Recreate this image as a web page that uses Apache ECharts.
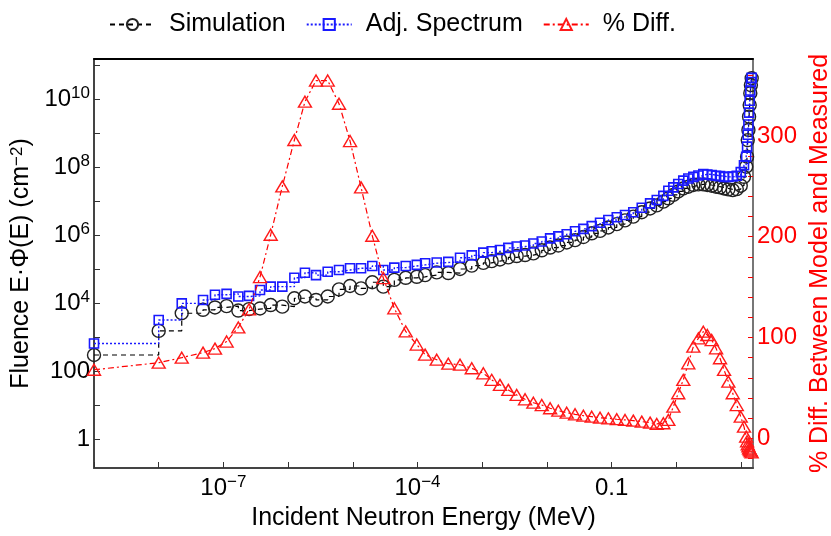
<!DOCTYPE html>
<html>
<head>
<meta charset="utf-8">
<script src="https://cdn.jsdelivr.net/npm/echarts@6/dist/echarts.min.js"></script>
<style>
  html, body { margin: 0; padding: 0; background: #fff; }
  #chart { width: 831px; height: 536px; }
</style>
</head>
<body>
<div id="chart"></div>
<script>
// Energy group points (MeV)
const energyMeV = [
  1e-9, 1e-8, 2.27e-8, 4.84e-8, 7.41e-8, 1.12e-7, 1.70e-7, 2.49e-7, 3.68e-7, 5.38e-7,
  8.13e-7, 1.25e-6, 1.82e-6, 2.70e-6, 4.09e-6, 6.12e-6, 9.06e-6, 1.34e-5, 2.00e-5, 2.96e-5,
  4.38e-5, 6.57e-5, 9.73e-5, 1.31e-4, 1.98e-4, 2.99e-4, 4.54e-4, 6.89e-4, 1.04e-3, 1.40e-3,
  1.88e-3, 2.53e-3, 3.41e-3, 4.59e-3, 6.17e-3, 8.32e-3, 1.12e-2, 1.50e-2, 2.02e-2, 2.72e-2,
  3.66e-2, 4.92e-2, 6.62e-2, 8.89e-2, 0.120, 0.161, 0.216, 0.292, 0.393, 0.498,
  0.630, 0.752, 0.899, 1.07, 1.28, 1.53, 1.83, 2.19, 2.61, 3.01,
  3.52, 4.11, 4.73, 5.46, 6.36, 7.44, 8.59, 9.89,
  11.1, 12.0, 12.4, 12.7, 13.0, 13.3, 13.6, 13.9, 14.2, 14.6
];

// Simulated fluence E·Φ(E) (cm^-2)
const simulation = [
  2.95e2, 1.51e3, 5.0e3, 6.3e3, 7.4e3, 8.1e3, 6.0e3, 6.6e3, 6.9e3, 8.7e3,
  7.8e3, 1.38e4, 1.55e4, 1.23e4, 1.55e4, 2.51e4, 3.16e4, 2.69e4, 4.07e4, 3.02e4,
  4.79e4, 5.50e4, 5.89e4, 6.61e4, 7.94e4, 7.59e4, 1.0e5, 1.26e5, 1.51e5, 1.70e5,
  1.91e5, 2.19e5, 2.40e5, 2.57e5, 2.88e5, 3.55e5, 4.27e5, 4.90e5, 6.03e5, 7.08e5,
  8.71e5, 1.12e6, 1.32e6, 1.66e6, 2.09e6, 2.69e6, 3.47e6, 4.68e6, 6.03e6, 7.41e6,
  9.55e6, 1.20e7, 1.51e7, 1.91e7, 2.34e7, 2.63e7, 2.95e7, 3.09e7, 3.09e7, 2.95e7,
  2.82e7, 2.63e7, 2.51e7, 2.34e7, 2.19e7, 2.09e7, 2.24e7, 2.82e7,
  5.13e7, 1.02e8, 2.0e8, 6.17e8, 1.23e9, 3.02e9, 6.61e9, 1.48e10, 2.57e10, 4.07e10
];

// Adjusted (unfolded) spectrum E·Φ(E) (cm^-2)
const adjSpectrum = [
  6.46e2, 3.16e3, 9.77e3, 1.23e4, 1.74e4, 1.86e4, 1.55e4, 1.62e4, 2.40e4, 3.02e4,
  3.02e4, 5.50e4, 7.76e4, 6.61e4, 8.32e4, 9.33e4, 1.05e5, 1.05e5, 1.23e5, 9.33e4,
  1.10e5, 1.23e5, 1.32e5, 1.48e5, 1.55e5, 1.62e5, 2.14e5, 2.51e5, 3.02e5, 3.31e5,
  3.63e5, 4.17e5, 4.57e5, 4.90e5, 5.62e5, 6.46e5, 7.94e5, 9.12e5, 1.05e6, 1.29e6,
  1.51e6, 1.82e6, 2.29e6, 2.75e6, 3.31e6, 3.89e6, 4.68e6, 6.31e6, 8.51e6, 1.07e7,
  1.41e7, 2.0e7, 2.51e7, 3.16e7, 3.98e7, 4.57e7, 5.13e7, 5.62e7, 6.17e7, 6.03e7,
  5.75e7, 5.50e7, 5.37e7, 5.13e7, 5.13e7, 5.25e7, 5.50e7, 7.08e7,
  1.12e8, 2.0e8, 3.98e8, 8.91e8, 1.78e9, 3.98e9, 8.91e9, 1.78e10, 3.16e10, 4.17e10
];

// Percent difference between model and measured
const pctDiff = [
  68, 75, 80, 85, 89, 96, 110, 128, 160, 202,
  250, 296, 334, 355, 355, 332, 295, 249, 201, 159,
  129, 106, 93, 83, 78, 74, 73, 69.5, 64.5, 58,
  53, 48, 43, 38.7, 35.3, 33, 29.8, 27.4, 25.4, 23.8,
  22.4, 21.4, 20.4, 19.8, 18.9, 18.2, 17.5, 16.5, 15.5, 14.2,
  14.9, 18.2, 31.4, 44.7, 57.9, 74.4, 90.9, 99.2, 105.8, 102.5,
  97.5, 89.3, 79.4, 67.8, 56.2, 44.7, 33, 21.4,
  11.5, 1.6, -3, -6, -8, -10, -11, -12, -13, -14
];

// Axis ticks and labels
const xTicks = [1e-9, 1e-8, 1e-7, 1e-6, 1e-5, 1e-4, 1e-3, 1e-2, 1e-1, 1, 10];
const xLabelValues = [1e-7, 1e-4, 0.1];
const xLabelTexts = ['10^\u22127', '10^\u22124', '0.1'];
const yTicks = [1, 10, 1e2, 1e3, 1e4, 1e5, 1e6, 1e7, 1e8, 1e9, 1e10, 1e11];
const yLabelValues = [1, 100, 1e4, 1e6, 1e8, 1e10];
const yLabelTexts = ['1', '100', '10^4', '10^6', '10^8', '10^10'];
const diffTicks = [-20, 0, 20, 40, 60, 80, 100, 120, 140, 160, 180, 200, 220, 240, 260, 280, 300, 320, 340, 360];
const diffLabelValues = [0, 100, 200, 300];

const FONT = '"Liberation Sans", Arial, Helvetica, sans-serif';

function toRich(txt) {
  const parts = txt.split('^');
  return parts.length === 2 ? '{b|' + parts[0] + '}{s|' + parts[1] + '}' : '{b|' + txt + '}';
}
function lookupLabel(values, texts, v) {
  for (let i = 0; i < values.length; i++) {
    if (Math.abs(Math.log10(v) - Math.log10(values[i])) < 1e-6) return toRich(texts[i]);
  }
  return '';
}
function richStyles(color) {
  return {
    b: { fontFamily: FONT, fontSize: 24, color: color, lineHeight: 28 },
    s: { fontFamily: FONT, fontSize: 17, color: color, lineHeight: 18, verticalAlign: 'top' }
  };
}

const pairs = (ys) => energyMeV.map((e, i) => [e, ys[i]]);

const chart = echarts.init(document.getElementById('chart'), null, { renderer: 'canvas' });

chart.setOption({
  backgroundColor: '#fff',
  animation: false,
  textStyle: { fontFamily: FONT },
  grid: { left: 94, right: 78, top: 59, bottom: 68, outerBoundsMode: 'none', containLabel: false },
  legend: {
    left: 104, top: 7,
    itemWidth: 45, itemHeight: 14, itemGap: 20,
    textStyle: { fontFamily: FONT, fontSize: 25, color: '#000', padding: [0, 0, 0, 9] },
    data: ['Simulation', 'Adj. Spectrum', '% Diff.']
  },
  xAxis: [
    {
      type: 'log', min: 1e-9, max: 15.3, position: 'bottom',
      axisLine: { onZero: false, lineStyle: { color: '#444', width: 2 } },
      axisTick: { inside: true, length: 6, lineStyle: { color: '#333', width: 1 }, customValues: xTicks },
      axisLabel: {
        customValues: xLabelValues, margin: 6,
        formatter: (v) => lookupLabel(xLabelValues, xLabelTexts, v),
        rich: richStyles('#000')
      },
      splitLine: { show: false },
      name: 'Incident Neutron Energy (MeV)', nameLocation: 'middle', nameGap: 38,
      nameTextStyle: { fontFamily: FONT, fontSize: 25, color: '#000' }
    },
    {
      type: 'log', min: 1e-9, max: 15.3, position: 'top',
      axisLine: { onZero: false, lineStyle: { color: '#000', width: 2 } },
      axisTick: { show: false }, axisLabel: { show: false }, splitLine: { show: false }
    }
  ],
  yAxis: [
    {
      type: 'log', min: 0.1403, max: 1.5e11, position: 'left',
      axisLine: { show: true, onZero: false, lineStyle: { color: '#444', width: 2 } },
      axisTick: { inside: true, length: 6, lineStyle: { color: '#333', width: 1 }, customValues: yTicks },
      axisLabel: {
        customValues: yLabelValues, margin: 4,
        formatter: (v) => lookupLabel(yLabelValues, yLabelTexts, v),
        rich: richStyles('#000')
      },
      splitLine: { show: false },
      name: 'Fluence E\u00b7\u03a6(E) (cm{s|\u22122})', nameLocation: 'middle', nameGap: 58,
      nameTextStyle: {
        fontFamily: FONT, fontSize: 25, color: '#000',
        rich: { s: { fontFamily: FONT, fontSize: 17, color: '#000', verticalAlign: 'top', lineHeight: 18 } }
      }
    },
    {
      type: 'value', min: -29.5, max: 376.4, position: 'right',
      axisLine: { show: true, onZero: false, lineStyle: { color: '#777', width: 2 } },
      axisTick: { inside: true, length: 5, lineStyle: { color: '#ff0000', width: 1 }, customValues: diffTicks },
      axisLabel: {
        customValues: diffLabelValues, margin: 4,
        fontFamily: FONT, fontSize: 24, color: '#ff0000'
      },
      splitLine: { show: false },
      name: '% Diff. Between Model and Measured', nameLocation: 'middle', nameGap: 53,
      nameTextStyle: { fontFamily: FONT, fontSize: 25, color: '#ff0000' }
    }
  ],
  series: [
    {
      name: 'Simulation', type: 'line', xAxisIndex: 0, yAxisIndex: 0,
      data: pairs(simulation), step: 'end',
      color: '#000',
      symbol: 'circle', symbolSize: 13,
      itemStyle: { color: 'rgba(255,255,255,0)', borderColor: '#222', borderWidth: 1.4 },
      lineStyle: { color: '#000', width: 1.2, type: [5, 4] },
      z: 2
    },
    {
      name: 'Adj. Spectrum', type: 'line', xAxisIndex: 0, yAxisIndex: 0,
      data: pairs(adjSpectrum), step: 'end',
      color: '#1a1aff',
      symbol: 'rect', symbolSize: 9,
      itemStyle: { color: 'rgba(255,255,255,0)', borderColor: '#1a1aff', borderWidth: 1.6 },
      lineStyle: { color: '#1a1aff', width: 1.4, type: [2, 2] },
      z: 3
    },
    {
      name: '% Diff.', type: 'line', xAxisIndex: 0, yAxisIndex: 1,
      data: pairs(pctDiff),
      color: '#ff0000',
      symbol: 'triangle', symbolSize: [13, 11],
      itemStyle: { color: 'rgba(255,255,255,0)', borderColor: '#ff1a1a', borderWidth: 1.4 },
      lineStyle: { color: '#ff0000', width: 1.2, type: [6, 3, 2, 3] },
      z: 4
    }
  ]
});
</script>
</body>
</html>
